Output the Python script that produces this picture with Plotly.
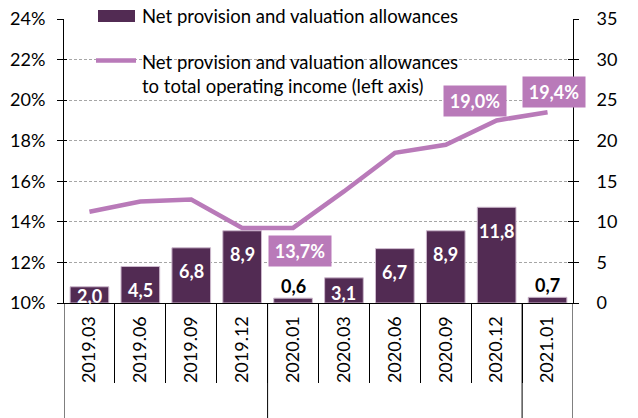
import plotly.graph_objects as go

# ---------------- data ----------------
categories = ["2019.03", "2019.06", "2019.09", "2019.12", "2020.01",
              "2020.03", "2020.06", "2020.09", "2020.12", "2021.01"]
provisions = [2.0, 4.5, 6.8, 8.9, 0.6, 3.1, 6.7, 8.9, 11.8, 0.7]          # right axis
ratio_pct = [14.5, 15.0, 15.1, 13.7, 13.7, 15.5, 17.4, 17.8, 19.0, 19.4]   # left axis, %
labelled_ratio_idx = [4, 8, 9]
left_ticks = [10, 12, 14, 16, 18, 20, 22, 24]
right_ticks = [0, 5, 10, 15, 20, 25, 30, 35]
legend_bar = "Net provision and valuation allowances"
legend_line_1 = "Net provision and valuation allowances"
legend_line_2 = "to total operating income (left axis)"

# ---------------- style ----------------
W, H = 638, 418
L, R, T, B = 64, 573, 19, 303
BAR_C = "#522b53"
LINE_C = "#b97ab9"
FONT = "Lato"
FS = 18
LEG_FS = 18.5
LBL_FS = 18

def px_x(px):
    return (px - L) / (R - L)

def px_y(py):
    return (B - py) / (B - T)

def fmt(v, pct=False):
    s = f"{v:.1f}".replace(".", ",")
    return s + ("%" if pct else "")

idx = list(range(len(categories)))
lrange = [left_ticks[0], left_ticks[-1]]
rrange = [right_ticks[0], right_ticks[-1]]

fig = go.Figure()
fig.add_trace(go.Bar(
    x=idx, y=provisions, yaxis="y",
    marker=dict(color=BAR_C, line=dict(color="#cdb9cd", width=1)),
    width=0.76, showlegend=False, hoverinfo="skip",
))
fig.add_trace(go.Scatter(
    x=idx, y=ratio_pct, yaxis="y2", mode="lines",
    line=dict(color=LINE_C, width=4.5), showlegend=False, hoverinfo="skip",
))

annotations = []
# bar labels
px_per_unit = (B - T) / (rrange[1] - rrange[0])
for i, v in zip(idx, provisions):
    if v < 1:
        annotations.append(dict(x=i, y=v, xref="x", yref="y", text=f"<b>{fmt(v)}</b>",
                                showarrow=False, yanchor="middle", yshift=12,
                                font=dict(family=FONT, size=LBL_FS, color="#000000")))
    else:
        bar_px = v * px_per_unit
        off = min(23.5, max(bar_px - 10, 9))
        annotations.append(dict(x=i, y=v, xref="x", yref="y", text=f"<b>{fmt(v)}</b>",
                                showarrow=False, yanchor="middle", yshift=-off,
                                font=dict(family=FONT, size=LBL_FS, color="#ffffff")))

# line labels (boxes)
box_shift = {4: (6.5, -23.5), 8: (-21.5, 19.5), 9: (6.5, 20.5)}
for i in labelled_ratio_idx:
    dx, dy = box_shift[i]
    annotations.append(dict(x=i, y=ratio_pct[i], xref="x", yref="y2",
                            text=f"<b>{fmt(ratio_pct[i], True)}</b>", showarrow=False,
                            xshift=dx, yshift=dy, bgcolor=LINE_C, borderpad=0,
                            width=62, height=30, align="center", valign="middle",
                            font=dict(family=FONT, size=LBL_FS, color="#ffffff")))

# legend texts
for txt, py in [(legend_bar, 16), (legend_line_1, 62), (legend_line_2, 86)]:
    annotations.append(dict(x=px_x(140), y=px_y(py), xref="paper", yref="paper", text=txt,
                            showarrow=False, xanchor="left", yanchor="middle",
                            font=dict(family=FONT, size=LEG_FS, color="#000000")))

shapes = []
# legend symbols
shapes.append(dict(type="rect", xref="paper", yref="paper", x0=px_x(98), x1=px_x(135),
                   y0=px_y(22), y1=px_y(10), fillcolor=BAR_C, line=dict(width=0)))
shapes.append(dict(type="line", xref="paper", yref="paper", x0=px_x(96), x1=px_x(136),
                   y0=px_y(60.5), y1=px_y(60.5), line=dict(color=LINE_C, width=4.5)))

# year group dividers (extend below the category labels)
years = [c.split(".")[0] for c in categories]
bounds = [-0.5] + [i - 0.5 for i in range(1, len(years)) if years[i] != years[i - 1]] + [len(years) - 0.5]
for bx in bounds:
    shapes.append(dict(type="line", xref="x", yref="paper", x0=bx, x1=bx,
                       y0=0, y1=px_y(H), line=dict(color="#000000", width=1)))

fig.update_layout(
    template="none",
    width=W, height=H,
    margin=dict(l=L, r=W - R, t=T, b=H - B, pad=0),
    paper_bgcolor="white", plot_bgcolor="white",
    font=dict(family=FONT, size=FS, color="#000000"),
    xaxis=dict(tickmode="array", tickvals=idx, ticktext=categories, tickangle=-90,
               showline=True, linecolor="#000000", linewidth=1,
               ticks="", showgrid=False, zeroline=False, automargin=False,
               tickfont=dict(size=FS), range=[-0.5, len(categories) - 0.5],
               ticklabelstandoff=5),
    xaxis2=dict(overlaying="x", matches="x", side="bottom", anchor="y",
                tickmode="array", tickvals=[i - 0.5 for i in idx[1:]],
                ticks="outside", ticklen=79, tickcolor="#000000", showticklabels=False,
                showgrid=False, zeroline=False, automargin=False,
                range=[-0.5, len(categories) - 0.5]),
    yaxis=dict(side="right", range=rrange, tickvals=right_ticks,
               showline=True, linecolor="#000000", ticks="outside", ticklen=5,
               tickcolor="#000000", showgrid=True, gridcolor="#a6a6a6", gridwidth=1,
               griddash="3px,2px", zeroline=False, ticklabelstandoff=14,
               tickfont=dict(size=FS), automargin=False),
    yaxis2=dict(side="left", overlaying="y", range=lrange,
                tickvals=left_ticks, ticktext=[f"{t}%" for t in left_ticks],
                showline=True, linecolor="#000000", ticks="outside", ticklen=6,
                tickcolor="#000000", showgrid=False, zeroline=False, ticklabelstandoff=8,
                tickfont=dict(size=FS), automargin=False),
    # inner halves of the crossing tick marks
    yaxis3=dict(side="left", overlaying="y", range=lrange, tickvals=left_ticks,
                ticks="inside", ticklen=3, tickcolor="#000000", showticklabels=False,
                showline=False, showgrid=False, zeroline=False, automargin=False),
    yaxis4=dict(side="right", overlaying="y", range=rrange, tickvals=right_ticks,
                ticks="inside", ticklen=5, tickcolor="#000000", showticklabels=False,
                showline=False, showgrid=False, zeroline=False, automargin=False),
    annotations=annotations, shapes=shapes,
)
# invisible helper traces to activate the helper axes
for xa, ya, yv in [("x2", "y", rrange[0]), ("x", "y3", lrange[0]), ("x", "y4", rrange[0])]:
    fig.add_trace(go.Scatter(x=[idx[0]], y=[yv], xaxis=xa, yaxis=ya,
                             mode="markers", marker=dict(opacity=0), showlegend=False,
                             hoverinfo="skip"))

fig.write_html("out.html", config={"displayModeBar": False, "staticPlot": True},
               post_script="document.body.style.margin='0px';document.body.style.overflow='hidden';")
